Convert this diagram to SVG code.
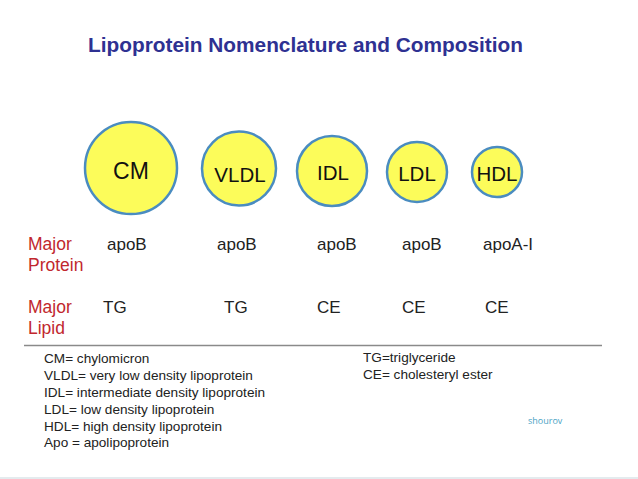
<svg xmlns="http://www.w3.org/2000/svg" width="638" height="479" viewBox="0 0 638 479">
<style>
.title{font-family:"Liberation Sans",Arial,sans-serif;font-weight:bold;font-size:20.5px;fill:#2E3192}
.circ{fill:#FCFC5A;stroke:#4A8CC0;stroke-width:2.5}
.nl{font-family:"Liberation Sans",Arial,sans-serif;font-size:20.5px;fill:#111;text-anchor:middle}
.row{font-family:"Liberation Sans",Arial,sans-serif;font-size:17.5px;fill:#C1272D}
.val{font-family:"Liberation Sans",Arial,sans-serif;font-size:17px;fill:#222}
.leg{font-family:"Liberation Sans",Arial,sans-serif;font-size:13.6px;fill:#222}
.wm{font-family:"Open Sans","Liberation Sans",sans-serif;font-size:9px;fill:#4AA3C4}
</style>
<rect width="638" height="479" fill="#ffffff"/>
<text class="title" x="88" y="52" textLength="435" lengthAdjust="spacingAndGlyphs">Lipoprotein Nomenclature and Composition</text>
<g id="CM"><circle class="circ" cx="131" cy="168" r="46"/><text class="nl" x="131" y="179" style="font-size:23px">CM</text></g>
<g id="VLDL"><circle class="circ" cx="239" cy="168.5" r="37"/><text class="nl" x="240" y="182">VLDL</text></g>
<g id="IDL"><circle class="circ" cx="332" cy="171" r="35"/><text class="nl" x="333" y="180">IDL</text></g>
<g id="LDL"><circle class="circ" cx="417" cy="172" r="30"/><text class="nl" x="417" y="181">LDL</text></g>
<g id="HDL"><circle class="circ" cx="497" cy="172" r="25"/><text class="nl" x="497" y="181">HDL</text></g>
<g id="rows">
<text class="row" x="28" y="250">Major</text>
<text class="row" x="28" y="271">Protein</text>
<text class="row" x="28" y="313">Major</text>
<text class="row" x="28" y="334">Lipid</text>
<text class="val" x="107" y="250">apoB</text>
<text class="val" x="217" y="250">apoB</text>
<text class="val" x="317" y="250">apoB</text>
<text class="val" x="402" y="250">apoB</text>
<text class="val" x="483" y="250">apoA-I</text>
<text class="val" x="103" y="313">TG</text>
<text class="val" x="224" y="313">TG</text>
<text class="val" x="317" y="313">CE</text>
<text class="val" x="402" y="313">CE</text>
<text class="val" x="485" y="313">CE</text>
</g>
<line x1="24" y1="345.5" x2="602" y2="345.5" stroke="#8a8a8a" stroke-width="1.5"/>
<g id="legend">
<text class="leg" x="44" y="363">CM= chylomicron</text>
<text class="leg" x="44" y="380">VLDL= very low density lipoprotein</text>
<text class="leg" x="44" y="397">IDL= intermediate density lipoprotein</text>
<text class="leg" x="44" y="414">LDL= low density lipoprotein</text>
<text class="leg" x="44" y="431">HDL= high density lipoprotein</text>
<text class="leg" x="44" y="447">Apo = apolipoprotein</text>
<text class="leg" x="363" y="362">TG=triglyceride</text>
<text class="leg" x="363" y="379">CE= cholesteryl ester</text>
</g>
<text class="wm" x="528" y="424">shourov</text>
<rect x="0" y="477" width="638" height="2" fill="#E4EBEE"/>
</svg>
